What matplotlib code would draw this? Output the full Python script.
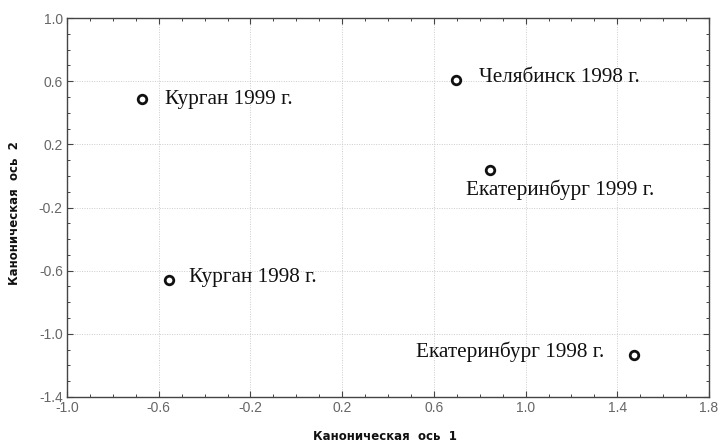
import matplotlib
matplotlib.use("Agg")
import matplotlib.pyplot as plt
from matplotlib.ticker import MultipleLocator

labels = ["Курган 1999 г.", "Челябинск 1998 г.", "Екатеринбург 1999 г.",
          "Курган 1998 г.", "Екатеринбург 1998 г."]
x_vals = [-0.673, 0.696, 0.844, -0.555, 1.472]
y_vals = [0.487, 0.608, 0.038, -0.658, -1.133]
# label offsets in pixels (dx, dy), alignment
offsets = [((23, 0), "left"), ((23, 2), "left"), ((70, -20), "center"),
           ((20, 2), "left"), ((-30, 3), "right")]

fig = plt.figure(figsize=(7.21, 4.45), dpi=100)
ax = fig.add_axes([67/721, 1-397/445, (709-67)/721, (397-18)/445])

ax.scatter(x_vals, y_vals, s=38, facecolors="white", edgecolors="#111111",
           linewidths=2.0, zorder=3)
for xv, yv, lab, ((dx, dy), ha) in zip(x_vals, y_vals, labels, offsets):
    ax.annotate(lab, (xv, yv), xytext=(dx*0.72, dy*0.72), textcoords="offset points",
                ha=ha, va="center", fontsize=15.3, family="Liberation Serif",
                color="#111111")

ax.set_xlim(-1.0, 1.8)
ax.set_ylim(-1.4, 1.0)
ax.xaxis.set_minor_locator(MultipleLocator(0.1))
ax.yaxis.set_minor_locator(MultipleLocator(0.1))
ax.set_xticks([-1.0, -0.6, -0.2, 0.2, 0.6, 1.0, 1.4, 1.8])
ax.set_yticks([1.0, 0.6, 0.2, -0.2, -0.6, -1.0, -1.4])
ax.set_xticklabels(["-1.0", "-0.6", "-0.2", "0.2", "0.6", "1.0", "1.4", "1.8"])
ax.set_yticklabels(["1.0", "0.6", "0.2", "-0.2", "-0.6", "-1.0", "-1.4"])
ax.tick_params(which="both", direction="in", top=True, right=True,
               color="#444444", labelcolor="#666666", labelsize=10)
ax.tick_params(which="major", length=4, width=0.8, pad=3)
ax.tick_params(which="minor", length=2.5, width=0.7)
for lab in ax.get_xticklabels() + ax.get_yticklabels():
    lab.set_family("Liberation Sans")
ax.grid(True, which="major", linestyle=(0, (1, 1.5)), color="#cccccc", linewidth=0.7)
for sp in ax.spines.values():
    sp.set_color("#444444")
    sp.set_linewidth(1.0)

fig.text(385/721, 1-437/445, "Каноническая  ось  1", ha="center", va="center",
         fontsize=8.5, fontweight="bold", family="DejaVu Sans Condensed", color="#111111")
fig.text(15/721, 1-213/445, "Каноническая  ось  2", ha="center", va="center",
         rotation=90, fontsize=8.5, fontweight="bold", family="DejaVu Sans Condensed",
         color="#111111")

fig.savefig("out.png", dpi=100)
